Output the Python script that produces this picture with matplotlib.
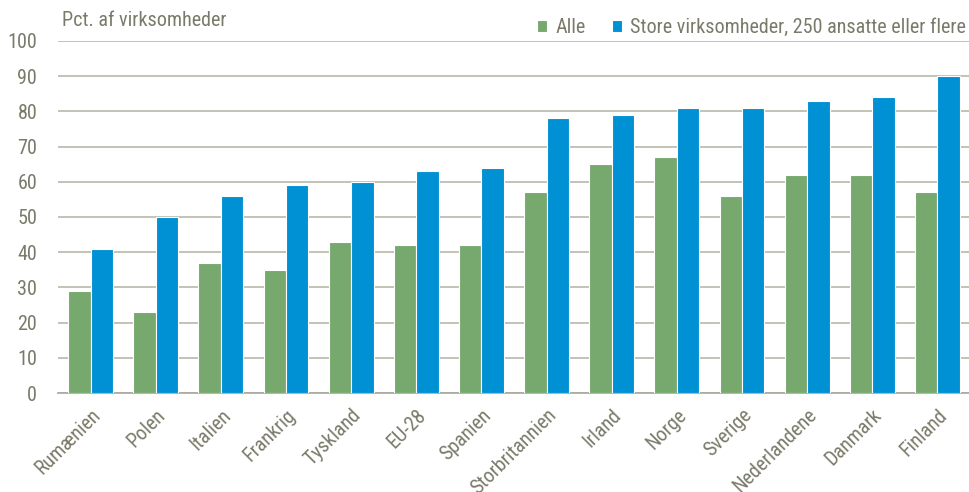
import matplotlib
matplotlib.use("Agg")
import matplotlib.pyplot as plt
import numpy as np

plt.rcParams['font.family'] = ['Roboto Condensed', 'Liberation Sans', 'DejaVu Sans']

lande = ['Rumænien', 'Polen', 'Italien', 'Frankrig', 'Tyskland', 'EU-28', 'Spanien',
         'Storbritannien', 'Irland', 'Norge', 'Sverige', 'Nederlandene', 'Danmark', 'Finland']
alle = [29, 23, 37, 35, 43, 42, 42, 57, 65, 67, 56, 62, 62, 57]
store = [41, 50, 56, 59, 60, 63, 64, 78, 79, 81, 81, 83, 84, 90]

gron = '#77A86E'
bla = '#0090D4'
tekst = '#7A7A6A'
gitter = '#B8B8A8'

fig = plt.figure(figsize=(9.7, 4.92), dpi=100)
ax = fig.add_axes([0.0598, 0.2012, 0.9402, 0.7155])

x = np.arange(len(lande))
w = 0.345
ax.bar(x - w/2, alle, w, color=gron, edgecolor='white', linewidth=0.8, label='Alle', zorder=3)
ax.bar(x + w/2, store, w, color=bla, edgecolor='white', linewidth=0.8,
       label='Store virksomheder, 250 ansatte eller flere', zorder=3)

ax.set_xlim(-0.5, len(lande) - 0.5)
ax.set_ylim(0, 100)
ax.set_yticks(range(0, 101, 10))
ax.yaxis.grid(True, color=gitter, linewidth=1.2, zorder=0)
for s in ['top', 'right', 'left']:
    ax.spines[s].set_visible(False)
ax.spines['bottom'].set_color('#A8A8A0')
ax.spines['bottom'].set_linewidth(1.2)
ax.tick_params(axis='both', length=0, labelsize=14.5, colors=tekst)
ax.tick_params(axis='y', pad=15)
ax.set_xticks(x)
ax.set_xticklabels(lande, rotation=45, ha='right', rotation_mode='anchor')
ax.tick_params(axis='x', pad=9)
for lbl in ax.get_xticklabels():
    lbl.set_color(tekst)

fig.text(0.064, 0.958, 'Pct. af virksomheder', fontsize=14.5, color=tekst, va='center')

leg = ax.legend(loc='lower right', bbox_to_anchor=(1.0, 1.0), ncol=2, frameon=False,
                fontsize=14.5, handlelength=0.5, handleheight=0.5, handletextpad=0.4,
                columnspacing=1.3, borderaxespad=0.1, borderpad=0.1)
for t in leg.get_texts():
    t.set_color(tekst)

fig.savefig('out.png', dpi=100)
